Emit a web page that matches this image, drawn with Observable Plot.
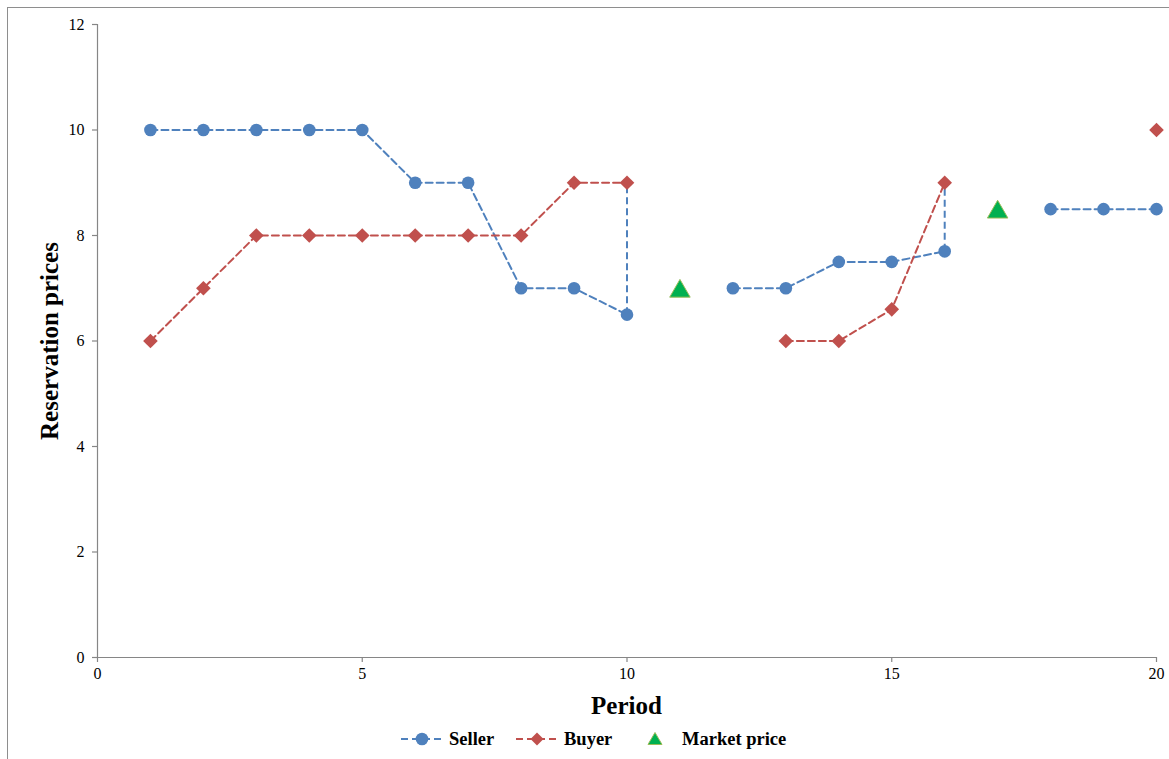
<!DOCTYPE html>
<html>
<head>
<meta charset="utf-8">
<script src="https://cdn.jsdelivr.net/npm/d3@7"></script>
<script src="https://cdn.jsdelivr.net/npm/@observablehq/plot@0.6"></script>
<style>
  html, body { margin: 0; padding: 0; background: #fff; overflow: hidden; }
  #wrap { position: relative; width: 1169px; height: 759px; font-family: "Liberation Serif", "Times New Roman", serif; }
  #frame { position: absolute; left: 7px; top: 7px; width: 1300px; height: 900px; border: 1.5px solid #8e8e8e; box-sizing: border-box; }
  #chart { position: absolute; left: 0; top: 0; }
  #xlabel { position: absolute; left: 0; width: 1253px; top: 692px; text-align: center; font-weight: bold; font-size: 25px; }
  #ylabel { position: absolute; left: 50px; top: 341px; transform: translate(-50%, -50%) rotate(-90deg); white-space: nowrap; font-weight: bold; font-size: 25px; }
  #legend { position: absolute; top: 728px; left: 0; width: 1169px; height: 22px; font-weight: bold; font-size: 18.5px; }
  .li { position: absolute; display: flex; align-items: center; height: 22px; }
  .li svg { margin-right: 5px; }
</style>
</head>
<body>
<div id="wrap">
  <div id="frame"></div>
  <div id="chart"></div>
  <div id="xlabel">Period</div>
  <div id="ylabel">Reservation prices</div>
  <div id="legend"></div>
</div>
<script>
// ---- data ----
const periods = [1,2,3,4,5,6,7,8,9,10,11,12,13,14,15,16,17,18,19,20];
const seller  = [10,10,10,10,10,9,9,7,7,6.5,null,7,7,7.5,7.5,7.7,null,8.5,8.5,8.5];
const buyer   = [6,7,8,8,8,8,8,8,9,9,null,null,6,6,6.6,9,null,null,null,10];
const market  = [null,null,null,null,null,null,null,null,null,null,7,null,null,null,null,null,8.5,null,null,null];
const tradePeriods = [10, 16];
const xTicks = [0,5,10,15,20];
const yTicks = [0,2,4,6,8,10,12];
const seriesNames = ["Seller", "Buyer", "Market price"];

const blue = "#4F81BD", red = "#C0504D", green = "#00B050", greenEdge = "#9BBB59", axisGrey = "#868686";
const serif = "Liberation Serif, Times New Roman, serif";

const rows = periods.map((p, i) => ({period: p, seller: seller[i], buyer: buyer[i], market: market[i]}));
const trades = tradePeriods.map(p => rows.find(r => r.period === p));
const valid = k => rows.filter(r => r[k] != null);

const plot = Plot.plot({
  width: 1169,
  height: 690,
  marginTop: 24,
  marginBottom: 33,
  marginLeft: 97,
  marginRight: 13,
  style: {fontFamily: serif, fontSize: "16px", color: "black", background: "transparent"},
  x: {domain: [0, 20], axis: null},
  y: {domain: [0, 12], axis: null},
  marks: [
    // axis lines
    Plot.ruleX([0], {stroke: axisGrey, strokeWidth: 1.2}),
    Plot.ruleY([0], {stroke: axisGrey, strokeWidth: 1.2}),
    // tick marks
    Plot.ruleY(yTicks, {y: d => d, x1: -0.095, x2: 0, stroke: axisGrey, strokeWidth: 1.2}),
    Plot.ruleX(xTicks, {x: d => d, y1: -0.095, y2: 0, stroke: axisGrey, strokeWidth: 1.2}),
    // tick labels
    Plot.text(yTicks, {x: 0, y: d => d, text: d => String(d), textAnchor: "end", dx: -13, fontSize: 16, fontFamily: serif, fill: "black"}),
    Plot.text(xTicks, {x: d => d, y: 0, text: d => String(d), lineAnchor: "top", dy: 10, fontSize: 16, fontFamily: serif, fill: "black"}),
    // data
    Plot.ruleX(trades, {x: "period", y1: "seller", y2: "buyer", stroke: blue, strokeWidth: 2, strokeDasharray: "7,4"}),
    Plot.line(rows, {x: "period", y: d => d.seller == null ? NaN : d.seller, stroke: blue, strokeWidth: 2, strokeDasharray: "7,4"}),
    Plot.line(rows, {x: "period", y: d => d.buyer == null ? NaN : d.buyer, stroke: red, strokeWidth: 2, strokeDasharray: "7,4"}),
    Plot.dot(valid("seller"), {x: "period", y: "seller", symbol: "circle", r: 6.3, fill: blue, stroke: "none"}),
    Plot.dot(valid("buyer"), {x: "period", y: "buyer", symbol: "diamond2", r: 6.6, fill: red, stroke: "none"}),
    Plot.dot(valid("market"), {x: "period", y: "market", symbol: "triangle", r: 7.6, dy: 3, fill: green, stroke: greenEdge, strokeWidth: 1})
  ]
});
document.getElementById("chart").appendChild(plot);

// ---- legend ----
const legend = document.getElementById("legend");
const items = [
  {name: seriesNames[0], left: 400, svg: `<svg width="44" height="22"><line x1="1" y1="11" x2="43" y2="11" stroke="${blue}" stroke-width="2" stroke-dasharray="7,4"/><circle cx="22" cy="11" r="6.3" fill="${blue}"/></svg>`},
  {name: seriesNames[1], left: 515, svg: `<svg width="44" height="22"><line x1="1" y1="11" x2="43" y2="11" stroke="${red}" stroke-width="2" stroke-dasharray="7,4"/><path d="M22,4.5L28.5,11L22,17.5L15.5,11Z" fill="${red}"/></svg>`},
  {name: seriesNames[2], left: 633, svg: `<svg width="44" height="22"><path d="M22,4.5L29,16.5L15,16.5Z" fill="${green}" stroke="${greenEdge}" stroke-width="1"/></svg>`}
];
for (const it of items) {
  const d = document.createElement("div");
  d.className = "li";
  d.style.left = it.left + "px";
  d.innerHTML = it.svg + `<span>${it.name}</span>`;
  legend.appendChild(d);
}
</script>
</body>
</html>
